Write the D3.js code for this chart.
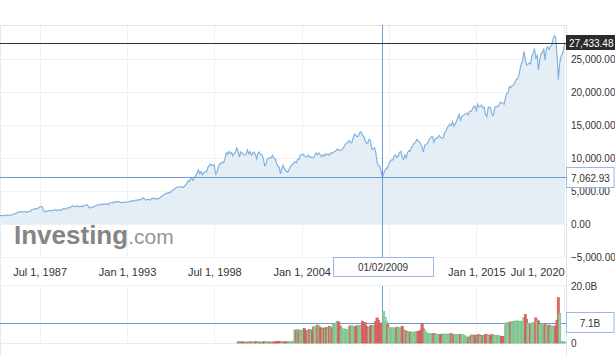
<!DOCTYPE html>
<html><head><meta charset="utf-8">
<script src="https://cdn.jsdelivr.net/npm/d3@7"></script>
<style>body{margin:0;background:#fff;} svg{display:block;font-family:"Liberation Sans",Arial,sans-serif;}</style>
</head><body><svg id="c" width="615" height="356"></svg>
<script>
// Monthly closes, Jan 1985 .. Aug 2020
const startYear = 1985;
const closes = [
1287,1284,1267,1258,1315,1336,1348,1334,1329,1374,1472,1547,
1571,1710,1819,1784,1877,1893,1775,1898,1768,1878,1914,1896,
2158,2224,2305,2286,2292,2419,2572,2663,2596,1994,1834,1939,
1958,2072,1988,2032,2031,2142,2129,2032,2113,2149,2115,2169,
2342,2258,2294,2419,2480,2440,2661,2737,2693,2645,2706,2753,
2591,2627,2707,2657,2877,2881,2905,2614,2453,2442,2560,2634,
2736,2882,2914,2888,3028,2907,3025,3044,3017,3069,2895,3169,
3224,3267,3236,3359,3397,3319,3394,3257,3272,3226,3305,3301,
3310,3371,3435,3428,3527,3516,3540,3651,3555,3681,3684,3754,
3978,3832,3636,3682,3758,3625,3765,3913,3843,3908,3739,3834,
3844,4011,4158,4321,4465,4556,4709,4647,4789,4756,5075,5117,
5395,5486,5587,5569,5643,5655,5529,5616,5882,6029,6522,6448,
6813,6878,6584,7009,7331,7673,8223,7622,7945,7442,7823,7908,
7907,8546,8800,9063,8900,8952,8883,7539,7843,8592,9117,9181,
9359,9307,9786,10789,10560,10971,10655,10829,10337,10729,10878,11497,
10941,10128,10922,10734,10522,10448,10522,11215,10651,10971,10415,10787,
10887,10495,9879,10735,10912,10502,10523,9950,8848,9075,9852,10022,
9920,10106,10404,9946,9925,9243,8737,8664,7592,8397,8896,8342,
8054,7891,7992,8480,8850,8985,9234,9416,9275,9801,9782,10454,
10488,10584,10358,10226,10188,10435,10140,10174,10080,10027,10428,10783,
10490,10766,10504,10193,10467,10275,10641,10482,10569,10440,10806,10718,
10865,10993,11109,11367,11168,11150,11186,11381,11679,12081,12222,12463,
12622,12269,12354,13063,13628,13409,13212,13358,13896,13930,13372,13265,
12650,12266,12263,12820,12638,11350,11378,11544,10851,9325,8829,8776,
8001,7062.93,7609,8168,8500,8447,9172,9496,9712,9713,10345,10428,
10067,10325,10857,11009,10137,9774,10466,10015,10788,11118,11006,11578,
11892,12226,12320,12811,12570,12414,12143,11614,10913,11955,12046,12218,
12633,12952,13212,13214,12393,12880,13009,13091,13437,13096,13026,13104,
13861,14054,14579,14840,15116,14910,15500,14810,15130,15546,16086,16577,
15699,16322,16458,16581,16717,16827,16563,17098,17043,17391,17828,17823,
17165,18133,17776,17841,18011,17620,17690,16528,16285,17664,17720,17425,
16466,16517,17685,17774,17787,17930,18432,18401,18308,18142,19124,19763,
19864,20812,20663,20941,21009,21350,21891,21948,22405,23377,24272,24719,
26149,25029,24103,24163,24416,24271,25415,25965,26458,25116,25538,23327,
24999,25916,25929,26593,24815,26600,26864,26403,26917,27046,28051,28538,
28256,25409,21917,24346,25383,25813,26428,27433.48
];
// Monthly volume in billions, Jan 2000 .. Aug 2020
const volumeStartYear = 2000;
const volumesB = [
0.35,0.40,0.45,0.38,0.33,0.36,0.30,0.32,0.37,0.42,0.36,0.40,
0.38,0.34,0.45,0.40,0.35,0.33,0.31,0.34,0.50,0.42,0.37,0.35,
0.36,0.38,0.34,0.37,0.35,0.45,0.55,0.42,0.44,0.48,0.40,0.36,
0.40,0.38,0.45,0.40,0.42,0.44,0.40,4.6,4.4,4.8,4.2,4.5,
4.3,4.6,5.2,4.4,4.2,4.5,4.8,4.6,4.3,5.6,5.9,5.2,
6.3,6.0,5.4,5.2,5.0,5.3,5.1,5.4,5.2,5.9,5.6,5.3,
6.5,6.8,7.0,7.7,7.4,6.0,5.0,4.8,5.0,4.7,4.6,4.8,
5.8,6.0,6.1,5.6,5.4,5.9,6.0,6.2,6.0,6.3,7.7,6.5,
7.2,5.8,5.6,5.5,6.0,6.1,6.2,6.0,7.5,8.8,8.0,6.8,
6.9,7.1,11.0,9.0,7.7,6.5,5.4,5.3,5.2,5.4,5.0,5.2,
5.6,5.4,5.0,5.3,5.9,4.6,4.5,4.2,4.0,3.8,3.9,3.6,
3.7,3.6,4.0,3.8,4.0,4.2,4.3,6.8,5.0,4.5,3.6,3.3,
3.2,3.3,3.1,3.2,3.4,3.3,3.0,2.8,3.1,3.0,3.1,3.0,
3.2,3.0,3.1,3.2,3.0,3.3,2.9,2.8,2.9,3.0,2.8,2.9,
3.0,2.9,2.8,2.7,2.4,1.9,1.8,2.2,2.6,2.9,2.5,2.7,
2.8,2.6,2.9,2.5,2.6,2.7,2.5,3.0,2.9,2.7,2.6,2.8,
2.9,2.8,2.7,2.6,2.5,2.7,2.4,2.3,2.3,2.2,6.3,7.0,
7.3,7.0,7.4,7.2,7.6,7.7,7.5,7.8,7.6,7.7,7.4,7.5,
9.0,10.0,8.2,7.0,6.5,6.2,6.8,7.2,6.6,8.8,8.0,7.8,
6.6,6.0,6.4,5.8,6.5,6.0,5.6,6.3,5.7,6.0,5.5,5.8,
6.0,8.0,15.9,10.4,0.5,0.4,0.4,0.3
];
const priceTicks = [-5000,0,5000,10000,15000,20000,25000];
const volumeTicks = [0,20];
const volumeTickLabels = ["0","20.0B"];
const xTickDates = ["1987-07-01","1993-01-01","1998-07-01","2004-01-01","2009-07-01","2015-01-01","2020-07-01"];
// the Jul 1, 2009 label sits under the crosshair date box, so it is not shown
const xTickLabels = ["Jul 1, 1987","Jan 1, 1993","Jul 1, 1998","Jan 1, 2004","","Jan 1, 2015","Jul 1, 2020"];
const crosshairDate = "2009-02-01";
const crosshairDateLabel = "01/02/2009";
const crosshairPrice = 7062.93;
const crosshairVolume = 7.1;
const crosshairVolumeLabel = "7.1B";
const lastPrice = 27433.48;

const parse = d3.timeParse("%Y-%m-%d");
const priceData = closes.map((v,i)=>({date:new Date(startYear, i, 1), value:v, idx:i}));
const volData = volumesB.map((v,i)=>{
  const pi = (volumeStartYear-startYear)*12 + i;
  return {date:new Date(volumeStartYear, i, 1), value:v, up: pi===0 || closes[pi] >= closes[pi-1]};
});

const svg = d3.select("#c");
const R = 566;
const x = d3.scaleTime().domain([new Date(1985,0,1), new Date(2020,7,1)]).range([0, 565]);
const y = d3.scaleLinear().domain([-5000,25000]).range([257,59]);
const yv = d3.scaleLinear().domain([0,20]).range([343,286]);

const gridC = "#f1f1f1";
// main pane grid
svg.append("g").selectAll("line").data(priceTicks).join("line")
  .attr("x1",0).attr("x2",R).attr("y1",d=>Math.round(y(d))+0.5).attr("y2",d=>Math.round(y(d))+0.5)
  .attr("stroke",gridC);
svg.append("g").selectAll("line").data(xTickDates).join("line")
  .attr("x1",d=>Math.round(x(parse(d)))+0.5).attr("x2",d=>Math.round(x(parse(d)))+0.5)
  .attr("y1",25).attr("y2",257).attr("stroke",gridC);
// volume pane grid
svg.append("g").selectAll("line").data(xTickDates).join("line")
  .attr("x1",d=>Math.round(x(parse(d)))+0.5).attr("x2",d=>Math.round(x(parse(d)))+0.5)
  .attr("y1",286).attr("y2",343).attr("stroke",gridC);
svg.append("line").attr("x1",0).attr("x2",R).attr("y1",285.5).attr("y2",285.5).attr("stroke","#f0f0f0");
svg.append("line").attr("x1",0).attr("x2",R).attr("y1",343.5).attr("y2",343.5).attr("stroke","#ececec");

// borders
svg.append("line").attr("x1",0).attr("x2",R).attr("y1",25.5).attr("y2",25.5).attr("stroke","#e2e2e2");
svg.append("line").attr("x1",0.5).attr("x2",0.5).attr("y1",25).attr("y2",356).attr("stroke","#e6e9ef");
svg.append("line").attr("x1",R+0.5).attr("x2",R+0.5).attr("y1",25).attr("y2",356).attr("stroke","#dfe5ee");

// watermark
const logo = svg.append("text").attr("x",14).attr("y",244).attr("fill","#858585");
logo.append("tspan").attr("font-size",26).attr("font-weight","bold").text("Investing");
logo.append("tspan").attr("font-size",21).attr("fill","#959595").text(".com");

// area + line
svg.append("path").datum(priceData)
  .attr("d", d3.area().x(d=>x(d.date)).y0(y(0)).y1(d=>y(d.value)))
  .attr("fill","#e6eef5");
svg.append("path").datum(priceData)
  .attr("d", d3.line().x(d=>x(d.date)).y(d=>y(d.value)))
  .attr("fill","none").attr("stroke","#84b2df").attr("stroke-width",1.2);

// crosshair (main)
const cx = Math.round(x(parse(crosshairDate)))+0.5;
const cy = Math.round(y(crosshairPrice))+0.5;
const chC = "#6b9ad6";
svg.append("line").attr("x1",0).attr("x2",R).attr("y1",cy).attr("y2",cy).attr("stroke",chC);
svg.append("line").attr("x1",cx).attr("x2",cx).attr("y1",25).attr("y2",258).attr("stroke",chC);
// last price line
const ly = Math.round(y(lastPrice))+0.5;
svg.append("line").attr("x1",0).attr("x2",R).attr("y1",ly).attr("y2",ly).attr("stroke","#333").attr("stroke-width",1);

// volume crosshair
const vy = Math.round(yv(crosshairVolume))+0.5;
svg.append("line").attr("x1",0).attr("x2",R).attr("y1",vy).attr("y2",vy).attr("stroke",chC);
svg.append("line").attr("x1",cx).attr("x2",cx).attr("y1",286).attr("y2",343).attr("stroke",chC);

// volume bars
svg.append("g").selectAll("rect").data(volData).join("rect")
  .attr("x",d=>x(d.date)-1.2).attr("width",2.4)
  .attr("y",d=>yv(d.value)).attr("height",d=>yv(0)-yv(d.value))
  .attr("fill",d=>d.up?"#94d2a2":"#df6a64")
  .attr("stroke",d=>d.up?"#70b982":"#c95450").attr("stroke-width",0.5);

// right axis (price)
const ay = svg.append("g").attr("transform",`translate(${R},0)`)
  .call(d3.axisRight(y).tickValues(priceTicks).tickSize(0).tickPadding(5).tickFormat(d3.format(",.2f")));
ay.select(".domain").remove();
ay.selectAll("text").attr("font-size",10).attr("fill","#333").attr("font-family","Liberation Sans, Arial, sans-serif");

// right axis (volume)
const av = svg.append("g").attr("transform",`translate(${R},0)`)
  .call(d3.axisRight(yv).tickValues(volumeTicks).tickSize(0).tickPadding(5).tickFormat((d,i)=>volumeTickLabels[i]));
av.select(".domain").remove();
av.selectAll("text").attr("font-size",10).attr("fill","#333").attr("font-family","Liberation Sans, Arial, sans-serif");

// x axis
const ax = svg.append("g").attr("transform","translate(0,257)")
  .call(d3.axisBottom(x).tickValues(xTickDates.map(parse)).tickSize(0).tickPadding(11).tickFormat((d,i)=>xTickLabels[i]));
ax.select(".domain").remove();
ax.selectAll("text").attr("font-size",11).attr("fill","#333").attr("font-family","Liberation Sans, Arial, sans-serif");
ax.selectAll(".tick").filter((d,i)=>i===xTickDates.length-1).select("text")
  .attr("text-anchor","end").attr("x",0.5);

// crosshair date box
svg.append("rect").attr("x",333.5).attr("y",257.5).attr("width",100).attr("height",19)
  .attr("fill","#fff").attr("stroke","#9ab8e2");
svg.append("text").attr("x",383).attr("y",271).attr("text-anchor","middle")
  .attr("font-size",10).attr("fill","#333").text(crosshairDateLabel);

// price labels
svg.append("rect").attr("x",566).attr("y",35).attr("width",49).attr("height",15).attr("fill","#2b2b2b");
svg.append("text").attr("x",569).attr("y",46.5).attr("font-size",10).attr("fill","#fff")
  .text(d3.format(",.2f")(lastPrice));
svg.append("rect").attr("x",566.5).attr("y",167.5).attr("width",47.5).attr("height",20)
  .attr("fill","#fff").attr("stroke","#9ab8e2");
svg.append("text").attr("x",571).attr("y",181.5).attr("font-size",10).attr("fill","#333")
  .text(d3.format(",.2f")(crosshairPrice));
svg.append("rect").attr("x",566.5).attr("y",312.5).attr("width",47.5).attr("height",20)
  .attr("fill","#fff").attr("stroke","#9ab8e2");
svg.append("text").attr("x",590).attr("y",326.5).attr("text-anchor","middle").attr("font-size",10).attr("fill","#333")
  .text(crosshairVolumeLabel);
</script></body></html>
